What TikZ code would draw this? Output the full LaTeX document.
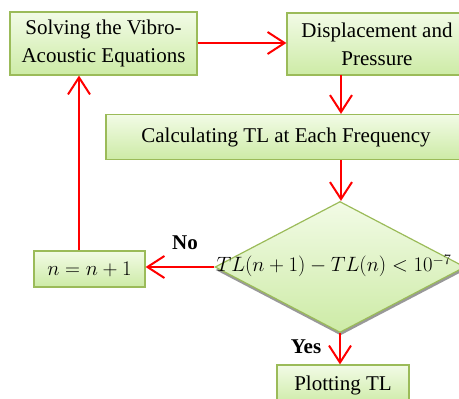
\documentclass[tikz,border=0pt]{standalone}
\usepackage{fontspec}
\setmainfont{Liberation Serif}
\usetikzlibrary{arrows.meta,shapes.geometric,shadows}
\definecolor{boxborder}{HTML}{9BBB59}
\definecolor{boxtop}{HTML}{F2FBE6}
\definecolor{boxbot}{HTML}{CDEBA6}
\definecolor{arrowred}{HTML}{FF0000}
\begin{document}
\begin{tikzpicture}[x=1pt,y=-1pt,
  procbox/.style={draw=boxborder,line width=1.2pt,top color=boxtop,bottom color=boxbot,
    inner sep=0pt,align=center,font=\fontsize{21}{28}\selectfont},
  decbox/.style={diamond,draw=boxborder,line width=1.2pt,top color=boxtop,bottom color=boxbot,
    inner sep=0pt,aspect=1.9,font=\fontsize{21}{28}\selectfont,
    drop shadow={shadow xshift=0.5pt,shadow yshift=-3pt,fill=black!40,opacity=1}},
  flow/.style={draw=arrowred,line width=2pt,-{Straight Barb[length=17pt,width=22pt,line width=2pt]}},
  lab/.style={font=\fontsize{21}{24}\selectfont\bfseries}]
\useasboundingbox (0,0) rectangle (459,399);
\begin{scope}
\clip (0,0) rectangle (459,399);
\node[procbox,minimum width=187pt,minimum height=63pt] (solve) at (103.5,43.5) {Solving the Vibro-\\Acoustic Equations};
\node[procbox,minimum width=180pt,minimum height=62pt] (disp) at (377,44) {Displacement and\\Pressure};
\node[procbox,minimum width=360pt,minimum height=45pt] (calc) at (286,137) {Calculating TL at Each Frequency};
\node[decbox,minimum width=250pt,minimum height=131pt] (dec) at (340,267) {};
\node[font=\fontsize{19.5}{28}\selectfont] (dectext) at (334,266) {$TL(n+1)-TL(n)<10^{-7}$};
\node[procbox,minimum width=111pt,minimum height=36pt] (inc) at (89.5,269) {$n=n+1$};
\node[procbox,minimum width=132pt,minimum height=40pt] (plot) at (343,385) {Plotting TL};
\end{scope}
\coordinate (c1) at (341,75);
\coordinate (c2) at (341,160);
\draw[flow] (solve.east |- 0,43) -- (disp.west |- 0,43);
\draw[flow] (c1) -- (calc.north -| c1);
\draw[flow] (c2) -- (dec.north -| c2);
\draw[flow] (dec.west) -- (inc.east |- dec.west);
\draw[flow] (inc.north -| 79,0) -- (solve.south -| 79,0);
\draw[flow] (dec.south) -- (plot.north -| dec.south);
\node[lab] (no) at (185,243) {No};
\node[lab] (yes) at (306,347) {Yes};
\end{tikzpicture}
\end{document}
